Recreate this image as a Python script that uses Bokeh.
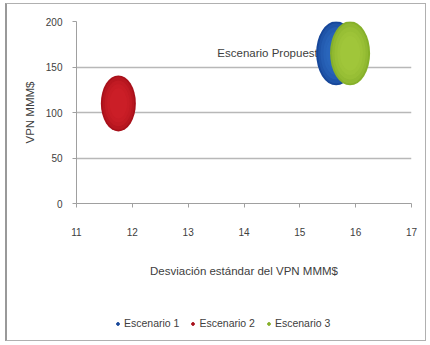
from bokeh.plotting import figure
from bokeh.layouts import column
from bokeh.models import Legend, LegendItem, FixedTicker, ColumnDataSource
from bokeh.core.properties import value
from bokeh.embed import file_html
from bokeh.resources import INLINE

# Bubble data: risk (std. dev. of NPV) vs expected NPV
scenarios = ["Escenario 1", "Escenario 2", "Escenario 3"]
desviacion = [15.65, 11.75, 15.9]
vpn = [165, 110, 165]
burbuja = [40, 35, 40]
colores = ["#17479A", "#A8101A", "#86B02A"]
luces = ["#2E6CC4", "#D4222C", "#A6CC3E"]

x_ticks = [11, 12, 13, 14, 15, 16, 17]
y_ticks = [0, 50, 100, 150, 200]

FONT = "Liberation Sans"

p = figure(width=418, height=298, x_range=(11, 17), y_range=(0, 200),
           output_backend="svg", toolbar_location=None,
           min_border_left=69, min_border_right=14, min_border_top=17,
           min_border_bottom=99)
p.outline_line_color = None
p.background_fill_color = "white"

p.xaxis.ticker = FixedTicker(ticks=x_ticks)
p.yaxis.ticker = FixedTicker(ticks=y_ticks)
p.xgrid.grid_line_color = None
p.ygrid.grid_line_color = "#b8b8b8"
p.ygrid.grid_line_width = 1.5

for ax in (p.xaxis[0], p.yaxis[0]):
    ax.axis_line_color = "#a0a0a0"
    ax.major_tick_line_color = "#a0a0a0"
    ax.minor_tick_line_color = None
    ax.major_label_text_font = FONT
    ax.major_label_text_font_size = "10px"
    ax.major_label_text_color = "#404040"
    ax.axis_label_text_font = FONT
    ax.axis_label_text_font_style = "normal"
    ax.axis_label_text_font_size = "11.5px"
    ax.axis_label_text_color = "#404040"

p.xaxis.major_tick_in = 0
p.xaxis.major_tick_out = 4
p.yaxis.major_tick_in = 0
p.yaxis.major_tick_out = 4
p.xaxis.major_label_standoff = 20
p.xaxis.axis_label = "Desviación estándar del VPN MMM$"
p.xaxis.axis_label_standoff = 26
p.yaxis.major_label_standoff = 10
p.yaxis.axis_label = "VPN MMM$"
p.yaxis.axis_label_standoff = 7

# Data label for the proposed scenario, partly behind the bubble
p.text(x=[desviacion[0]], y=[vpn[0]], text=["Escenario Propuesto"],
       x_offset=-12, y_offset=0, text_align="right", text_baseline="middle",
       text_font=value(FONT), text_font_size="11.5px", text_color="#404040")

# Shaded bubbles: dark rim with lighter layers toward the centre
for i, name in enumerate(scenarios):
    w = burbuja[i]
    h = w * 1.6
    src = ColumnDataSource(dict(x=[desviacion[i]], y=[vpn[i]]))
    p.ellipse("x", "y", width=w, height=h, width_units="screen",
              height_units="screen", source=src, fill_color=colores[i],
              line_color=None)
    for f in [0.9, 0.78, 0.64, 0.5]:
        p.ellipse("x", "y", width=w * f, height=h * (f + 0.04),
                  width_units="screen", height_units="screen", source=src,
                  fill_color=luces[i], fill_alpha=0.35, line_color=None)

# Legend strip under the chart (its ranges keep the proxy markers out of view)
lg = figure(width=418, height=38, x_range=(0, 1), y_range=(0, 1),
            output_backend="svg", toolbar_location=None,
            min_border=0, x_axis_type=None, y_axis_type=None)
lg.outline_line_color = None
lg.grid.grid_line_color = None

items = []
for i, name in enumerate(scenarios):
    rr = lg.scatter(x=[desviacion[i]], y=[vpn[i]], size=7, marker="circle",
                    fill_color=colores[i], line_color=colores[i])
    items.append(LegendItem(label=name, renderers=[rr]))

legend = Legend(items=items, orientation="horizontal", location=(38, 11),
                label_text_font=FONT, label_text_font_size="10.5px",
                label_text_color="#404040", glyph_width=7, glyph_height=7,
                spacing=10, label_standoff=3, padding=0, margin=0,
                border_line_color=None, background_fill_alpha=0)
lg.add_layout(legend, "center")

page = column(p, lg, spacing=0)
page.styles = {"border": "1px solid #b0b0b0", "border-left": "2px solid #999",
               "margin-left": "5px", "margin-top": "3px"}

open("out.html", "w").write(file_html(page, INLINE))
